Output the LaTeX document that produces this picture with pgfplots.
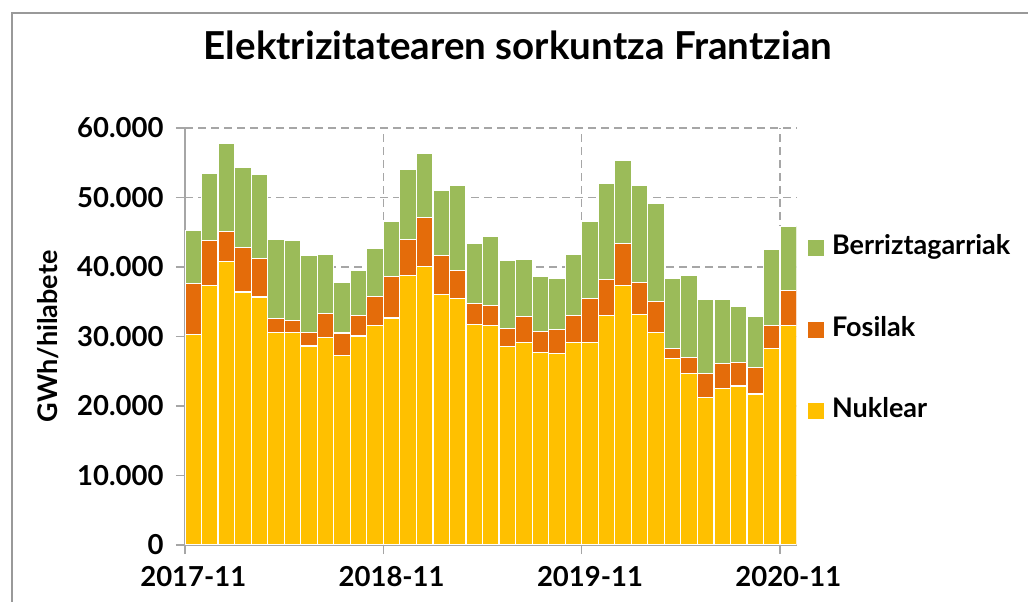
\documentclass[border=0pt]{standalone}
\usepackage{fontspec}
\setmainfont{Lato}
\usepackage{pgfplots}
\pgfplotsset{compat=1.18}
\usepackage{pgfplotstable}
\definecolor{nuc}{HTML}{FFC000}
\definecolor{fos}{HTML}{E46C0A}
\definecolor{ren}{HTML}{9BBB59}
\definecolor{gridc}{HTML}{A6A6A6}
\definecolor{framec}{HTML}{999999}
\pgfplotstableread{
x nuc fos ren
0.5 30300 7280 7670
1.5 37390 6380 9730
2.5 40750 4310 12750
3.5 36390 6370 11510
4.5 35670 5510 12180
5.5 30580 1970 11410
6.5 30580 1680 11600
7.5 28620 1960 11030
8.5 29910 3360 8530
9.5 27230 3260 7290
10.5 30060 2920 6470
11.5 31590 4170 6860
12.5 32650 5970 7960
13.5 38830 5130 10110
14.5 40120 6960 9300
15.5 36100 5510 9350
16.5 35470 4080 12180
17.5 31740 2970 8720
18.5 31640 2830 9970
19.5 28520 2640 9780
20.5 29190 3650 8240
21.5 27660 3020 7910
22.5 27520 3500 7330
23.5 29190 3790 8770
24.5 29100 6400 11080
25.5 32980 5230 13850
26.5 37300 6040 11930
27.5 33130 4600 14000
28.5 30630 4370 14190
29.5 26850 1480 10070
30.5 24690 2250 11890
31.5 21280 3360 10640
32.5 22530 3550 9300
33.5 22870 3350 8100
34.5 21720 3780 7430
35.5 28240 3300 10980
36.5 31540 5090 9200
}\datatable
\begin{document}
\begin{tikzpicture}
\useasboundingbox (0,0) rectangle (1028bp,602bp);
\fill[white] (0,0) rectangle (1028bp,602bp);
\draw[framec, line width=2bp] (12bp,0) -- (12bp,589bp) -- (1028bp,589bp);
\begin{axis}[
  at={(185bp,57bp)}, anchor=south west,
  scale only axis, width=611.6bp, height=417bp,
  xmin=0, xmax=37, ymin=0, ymax=60000,
  ybar stacked, bar width=1,
  axis x line*=bottom, axis y line*=left,
  axis line style={gridc, line width=1.5bp},
  tick align=outside, major tick length=9bp,
  tick style={gridc, line width=1.5bp},
  xtick={0,12,24,36},
  xticklabels={2017-11,2018-11,2019-11,2020-11},
  xticklabel style={xshift=8.3bp, yshift=-9bp},
  yticklabel style={xshift=-9bp},
  ytick={0,10000,20000,30000,40000,50000,60000},
  scaled y ticks=false,
  /pgf/number format/.cd, 1000 sep={.}, assume math mode=true,
  /pgfplots/.cd,
  ticklabel style={font=\fontsize{27.5bp}{30bp}\selectfont\bfseries},
  xmajorgrids, ymajorgrids,
  major grid style={gridc, line width=1.5bp, dash pattern=on 8bp off 5bp},
  every axis y label/.style={at={(rel axis cs:0,0.5)}, xshift=-137bp, rotate=90, anchor=center,
    font=\fontsize{27bp}{30bp}\selectfont\bfseries},
  ylabel={GWh/hilabete},
  reverse legend,
  legend style={at={(axis description cs:1.0187,0.5156)}, anchor=west, draw=none, fill=none,
    inner sep=0pt, outer sep=0pt, row sep=56.5bp, column sep=8bp,
    nodes={inner sep=0pt, text height=19bp, text depth=6bp},
    font=\fontsize{27bp}{30bp}\selectfont\bfseries},
  legend cell align=left,
  mylegend/.style={legend image code/.code={\fill[##1,draw=none] (0bp,-8bp) rectangle (16bp,8bp);}},
]
\addplot[fill=nuc, draw=white, line width=1.2bp, mylegend] table[x=x, y=nuc] {\datatable};
\addlegendentry{Nuklear}
\addplot[fill=fos, draw=white, line width=1.2bp, mylegend] table[x=x, y=fos] {\datatable};
\addlegendentry{Fosilak}
\addplot[fill=ren, draw=white, line width=1.2bp, mylegend] table[x=x, y=ren] {\datatable};
\addlegendentry{Berriztagarriak}
\end{axis}
\node[anchor=base, font=\fontsize{38.5bp}{41bp}\selectfont\bfseries] at (518bp,542.7bp) {Elektrizitatearen sorkuntza Frantzian};
\end{tikzpicture}
\end{document}
